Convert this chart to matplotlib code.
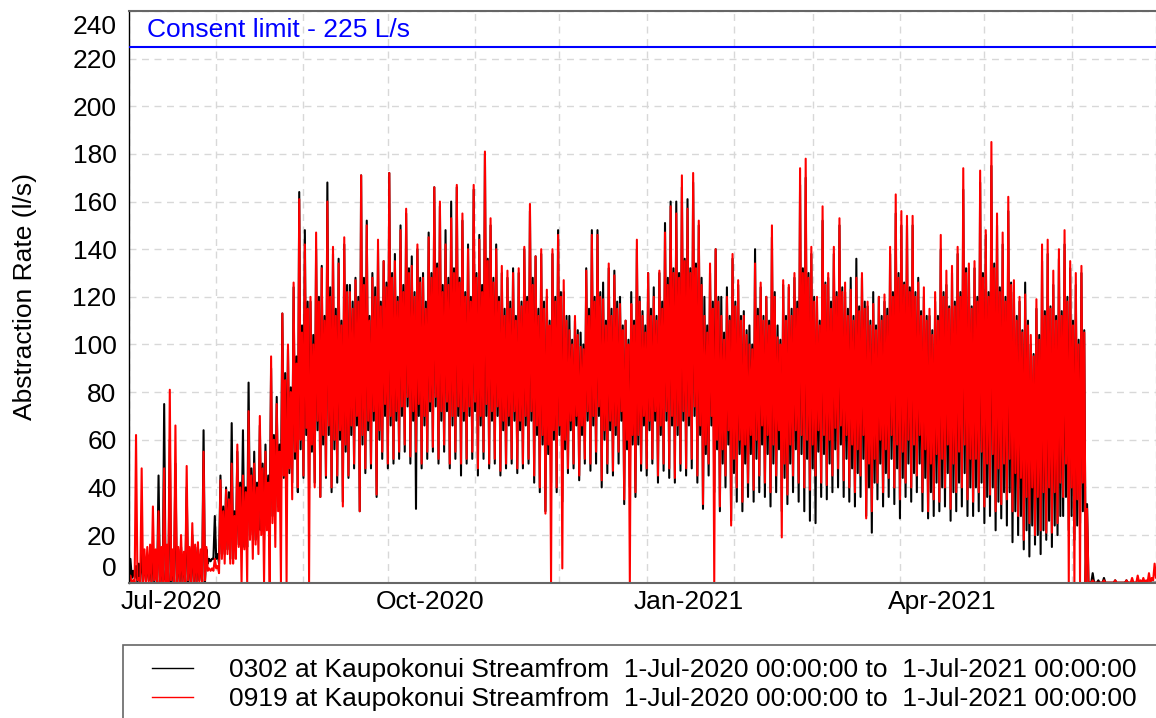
import numpy as np
import matplotlib
matplotlib.use("Agg")
import matplotlib.pyplot as plt
import matplotlib.dates as mdates
import matplotlib.transforms as mtransforms
from matplotlib.patches import Rectangle

plt.rcParams["font.family"] = ["Liberation Sans", "DejaVu Sans"]

# ── Données : par période de 2 jours, creux/pic extrêmes (lo, hi)
#    puis creux/pic courants (lo2, hi2) ──
start = np.datetime64("2020-07-01")
end = np.datetime64("2021-07-01")

red_hi = [
    3, 62, 48, 15, 32, 30, 48, 81, 66, 20,
    49, 25, 17, 55, 6, 10, 43, 39, 50, 58,
    45, 72, 50, 70, 55, 95, 75, 113, 100, 126,
    161, 142, 120, 147, 132, 160, 141, 134, 145, 122,
    127, 171, 150, 128, 144, 135, 172, 135, 148, 157,
    133, 142, 128, 145, 166, 160, 142, 153, 167, 155,
    140, 167, 144, 181, 153, 140, 133, 131, 130, 132,
    141, 159, 137, 140, 123, 140, 146, 127, 106, 112,
    99, 131, 146, 146, 119, 134, 129, 117, 110, 117,
    144, 112, 130, 120, 131, 147, 158, 155, 171, 157,
    172, 152, 112, 134, 140, 112, 120, 138, 127, 112,
    100, 134, 126, 120, 150, 103, 127, 125, 130, 174,
    178, 141, 120, 158, 130, 141, 153, 126, 123, 128,
    130, 118, 117, 120, 121, 141, 163, 156, 154, 154,
    126, 124, 115, 122, 146, 131, 133, 141, 174, 134,
    135, 173, 148, 185, 155, 147, 162, 127, 120, 121,
    104, 119, 142, 144, 131, 140, 148, 135, 130, 133,
    31, 1, 0, 1, 0, 1, 0, 1, 2, 3,
    2, 4, 8,
]
red_lo = [
    0, 0, 0, 0, 0, 0, 0, 0, 0, 0,
    0, 0, 0, 0, 5, 5, 4, 8, 8, 10,
    0, 0, 10, 12, 0, 0, 15, 0, 0, 35,
    40, 45, 0, 40, 36, 45, 40, 45, 32, 45,
    50, 30, 48, 50, 37, 55, 50, 52, 55, 58,
    53, 55, 50, 55, 57, 52, 58, 50, 55, 50,
    52, 55, 48, 55, 50, 52, 47, 50, 52, 48,
    50, 52, 45, 40, 29, 0, 40, 6, 48, 50,
    45, 52, 50, 55, 43, 50, 47, 55, 35, 0,
    38, 50, 48, 52, 45, 50, 48, 44, 50, 48,
    52, 45, 33, 50, 0, 32, 45, 24, 40, 34,
    42, 39, 45, 42, 38, 45, 19, 37, 45, 42,
    40, 39, 45, 42, 41, 45, 48, 43, 40, 38,
    45, 27, 30, 42, 38, 44, 40, 35, 42, 40,
    45, 38, 30, 35, 34, 40, 31, 38, 40, 35,
    34, 38, 32, 37, 30, 33, 35, 30, 28, 18,
    25, 20, 22, 21, 21, 25, 36, 0, 0, 0,
    0, 0, 0, 0, 0, 0, 0, 0, 0, 0,
    0, 0, 1,
]
red_hi2 = [
    1, 2, 14, 16, 14, 15, 16, 14, 15, 13,
    15, 16, 14, 15, 6, 7, 30, 35, 28, 40,
    38, 45, 40, 48, 42, 60, 55, 85, 80, 92,
    105, 115, 100, 118, 110, 120, 112, 108, 122, 115,
    118, 125, 110, 120, 116, 124, 128, 118, 122, 130,
    120, 126, 115, 128, 132, 122, 125, 130, 126, 120,
    118, 128, 122, 135, 126, 118, 112, 115, 110, 116,
    118, 125, 112, 115, 108, 118, 120, 110, 100, 104,
    98, 112, 118, 120, 108, 112, 115, 106, 100, 108,
    118, 105, 112, 110, 115, 125, 130, 128, 135, 130,
    132, 125, 105, 115, 118, 102, 110, 116, 110, 104,
    98, 112, 110, 108, 120, 100, 110, 112, 115, 130,
    128, 118, 108, 125, 115, 120, 122, 112, 110, 114,
    115, 108, 106, 110, 112, 120, 128, 125, 122, 120,
    112, 110, 104, 110, 120, 115, 116, 120, 130, 115,
    118, 128, 120, 132, 122, 118, 125, 110, 105, 108,
    95, 102, 112, 115, 110, 112, 118, 108, 100, 105,
    0, 0, 0, 0, 0, 0, 0, 0, 0, 1,
    1, 2, 5,
]
red_lo2 = [
    0, 1, 0, 0, 1, 0, 0, 1, 0, 0,
    1, 0, 0, 1, 5, 6, 10, 12, 8, 15,
    14, 18, 16, 20, 22, 25, 30, 45, 48, 55,
    60, 65, 58, 68, 62, 66, 60, 64, 58, 66,
    70, 62, 68, 72, 64, 75, 70, 72, 74, 78,
    72, 75, 70, 76, 78, 72, 76, 70, 74, 72,
    74, 76, 70, 75, 72, 74, 68, 70, 72, 68,
    70, 72, 66, 62, 58, 64, 66, 60, 68, 70,
    66, 72, 70, 74, 64, 68, 66, 72, 60, 62,
    62, 70, 68, 72, 66, 72, 70, 66, 72, 70,
    74, 66, 58, 70, 60, 56, 64, 52, 60, 58,
    62, 60, 66, 62, 58, 64, 50, 58, 64, 62,
    60, 58, 64, 62, 60, 65, 66, 62, 58, 56,
    62, 50, 52, 60, 56, 62, 58, 55, 60, 58,
    62, 56, 50, 54, 52, 58, 50, 55, 58, 52,
    52, 55, 50, 54, 48, 50, 52, 46, 44, 36,
    40, 36, 38, 40, 38, 42, 50, 40, 35, 42,
    0, 0, 0, 0, 0, 0, 0, 0, 0, 0,
    0, 0, 2,
]

black_hi = [
    10, 7, 12, 10, 15, 45, 75, 60, 50, 15,
    40, 20, 15, 64, 10, 28, 45, 40, 67, 55,
    64, 84, 55, 66, 58, 90, 78, 113, 98, 124,
    164, 148, 118, 140, 133, 168, 138, 136, 142, 125,
    128, 171, 152, 130, 140, 135, 172, 138, 150, 155,
    137, 140, 130, 147, 166, 158, 148, 160, 166, 152,
    142, 165, 146, 180, 150, 142, 130, 128, 132, 130,
    140, 156, 137, 138, 120, 138, 148, 122, 112, 110,
    105, 132, 148, 148, 126, 132, 131, 120, 110, 122,
    140, 114, 130, 124, 130, 151, 160, 160, 166, 161,
    168, 150, 120, 130, 140, 120, 124, 136, 125, 114,
    108, 140, 124, 120, 145, 108, 125, 124, 128, 167,
    170, 138, 118, 152, 128, 138, 150, 122, 128, 136,
    128, 116, 122, 120, 118, 138, 155, 150, 150, 150,
    128, 120, 112, 118, 140, 125, 130, 138, 165, 132,
    132, 168, 146, 175, 150, 142, 156, 122, 118, 126,
    100, 115, 135, 138, 125, 136, 142, 132, 125, 130,
    33, 4, 1, 2, 0, 1, 0, 1, 0, 0,
    0, 0, 0,
]
black_lo = [
    0, 2, 0, 1, 0, 0, 0, 0, 0, 0,
    0, 0, 0, 0, 8, 10, 8, 12, 10, 14,
    18, 15, 20, 22, 18, 25, 30, 38, 40, 42,
    38, 44, 40, 42, 36, 44, 38, 42, 34, 44,
    48, 30, 46, 48, 36, 52, 48, 50, 52, 55,
    50, 31, 48, 52, 55, 50, 55, 48, 52, 45,
    50, 52, 45, 52, 48, 50, 45, 48, 50, 46,
    48, 50, 42, 38, 30, 42, 38, 34, 46, 48,
    43, 50, 47, 50, 40, 46, 45, 50, 33, 40,
    36, 47, 45, 50, 42, 47, 44, 42, 47, 45,
    48, 42, 31, 45, 38, 30, 40, 26, 34, 30,
    36, 34, 38, 36, 32, 38, 30, 33, 38, 34,
    30, 26, 25, 36, 35, 38, 40, 36, 34, 32,
    36, 28, 21, 35, 32, 36, 33, 27, 36, 34,
    38, 30, 27, 28, 30, 32, 26, 30, 32, 28,
    28, 30, 25, 28, 22, 27, 24, 17, 20, 14,
    11, 16, 12, 18, 15, 20, 28, 22, 18, 25,
    0, 0, 0, 0, 0, 0, 0, 0, 0, 0,
    0, 0, 0,
]
black_hi2 = [
    5, 8, 6, 10, 12, 14, 15, 12, 14, 12,
    14, 15, 12, 14, 10, 12, 32, 38, 30, 42,
    40, 48, 42, 50, 45, 62, 58, 88, 82, 95,
    108, 118, 104, 120, 112, 124, 115, 110, 125, 118,
    120, 128, 112, 124, 118, 126, 130, 120, 125, 132,
    122, 128, 118, 130, 134, 125, 128, 132, 128, 122,
    120, 130, 125, 136, 128, 120, 115, 118, 112, 118,
    120, 128, 115, 118, 110, 120, 122, 112, 102, 106,
    100, 115, 120, 122, 110, 115, 118, 108, 102, 110,
    120, 108, 115, 112, 118, 128, 132, 130, 136, 132,
    134, 128, 108, 118, 120, 105, 112, 118, 112, 106,
    100, 115, 112, 110, 122, 102, 112, 115, 118, 132,
    130, 120, 110, 126, 118, 122, 124, 115, 112, 116,
    118, 110, 108, 112, 115, 122, 130, 126, 124, 122,
    114, 112, 106, 112, 122, 116, 118, 122, 132, 116,
    120, 130, 122, 134, 124, 120, 126, 112, 106, 110,
    96, 104, 114, 116, 112, 114, 120, 110, 102, 106,
    0, 0, 0, 0, 0, 0, 0, 0, 0, 0,
    0, 0, 0,
]
black_lo2 = [
    2, 0, 3, 1, 0, 0, 1, 0, 0, 0,
    0, 0, 1, 0, 9, 10, 12, 14, 10, 16,
    15, 20, 18, 22, 24, 28, 32, 44, 46, 52,
    56, 62, 55, 64, 58, 62, 56, 60, 55, 62,
    66, 58, 64, 68, 60, 70, 66, 68, 70, 74,
    68, 70, 66, 72, 74, 68, 72, 66, 70, 68,
    70, 72, 66, 70, 68, 70, 64, 66, 68, 64,
    66, 68, 62, 58, 54, 60, 62, 56, 64, 66,
    62, 68, 66, 70, 60, 64, 62, 68, 56, 58,
    58, 66, 64, 68, 62, 68, 66, 62, 68, 66,
    70, 62, 54, 66, 56, 50, 58, 46, 54, 50,
    54, 52, 58, 54, 50, 56, 44, 50, 56, 54,
    52, 48, 55, 54, 50, 56, 58, 52, 48, 46,
    52, 40, 42, 50, 46, 52, 48, 44, 50, 46,
    50, 44, 38, 42, 40, 46, 38, 42, 46, 40,
    40, 42, 36, 40, 34, 38, 38, 30, 28, 22,
    24, 20, 22, 26, 24, 28, 36, 28, 24, 30,
    0, 0, 0, 0, 0, 0, 0, 0, 0, 0,
    0, 0, 0,
]

series_labels = [
    "0302 at Kaupokonui Streamfrom  1-Jul-2020 00:00:00 to  1-Jul-2021 00:00:00",
    "0919 at Kaupokonui Streamfrom  1-Jul-2020 00:00:00 to  1-Jul-2021 00:00:00",
]
consent_limit = 225
consent_label = "Consent limit - 225 L/s"
x_label_dates = ["2020-07-16", "2020-10-16", "2021-01-16", "2021-04-16"]
y_ticks = list(range(0, 241, 20))


def serie(lo, hi, lo2, hi2):
    # une valeur toutes les 12 h : creux, pic, creux, pic
    return np.column_stack([lo, hi, lo2, hi2]).ravel().astype(float)


red = serie(red_lo, red_hi, red_lo2, red_hi2)
black = serie(black_lo, black_hi, black_lo2, black_hi2)
times = (start.astype("datetime64[h]")
         + 12 * np.arange(len(red)).astype("timedelta64[h]")).astype("datetime64[s]").astype(object)

# ── Figure ──
FS = 19
fig = plt.figure(figsize=(11.56, 7.18), dpi=100)
ax = fig.add_axes([129 / 1156, (718 - 582.7) / 718, 1027 / 1156, (582.7 - 11) / 718])

l_black, = ax.plot(times, black, color="black", linewidth=1.5)
l_red, = ax.plot(times, red, color="#ff0000", linewidth=1.5)

# Limite de consentement
ax.axhline(consent_limit, color="#0000ff", linewidth=1.5, zorder=4)
trans = mtransforms.blended_transform_factory(ax.transAxes, ax.transData)
ax.text(0.0175, consent_limit + 7.2, consent_label, transform=trans,
        color="#0000ff", fontsize=FS, va="center", ha="left")

# Axes
ax.set_xlim(start.astype(object), end.astype(object))
ax.set_ylim(0, 240)
ax.set_yticks(y_ticks)
ax.set_yticklabels([str(v) for v in y_ticks])
ax.xaxis.set_major_locator(mdates.MonthLocator())
ax.xaxis.set_major_formatter(plt.NullFormatter())
ax.set_xticks([np.datetime64(d).astype(object) for d in x_label_dates], minor=True)
ax.xaxis.set_minor_formatter(mdates.DateFormatter("%b-%Y"))
ax.tick_params(axis="both", which="both", length=0, labelsize=FS)
ax.tick_params(axis="y", pad=9)
ax.tick_params(axis="x", which="minor", pad=5)

ax.grid(True, axis="x", which="major", color="#d8d8d8", linestyle=(0, (5, 4)), linewidth=1)
ax.grid(True, axis="y", which="major", color="#d8d8d8", linestyle=(0, (5, 4)), linewidth=1)
ax.set_axisbelow(True)

ax.spines["left"].set_color("black")
ax.spines["left"].set_linewidth(1.0)
for side in ["bottom", "top"]:
    ax.spines[side].set_color("#666666")
    ax.spines[side].set_linewidth(1.5)
ax.spines["right"].set_visible(False)

# Décalage des étiquettes 0 et 240 (vers l'intérieur)
labels = ax.get_yticklabels()
labels[0].set_transform(labels[0].get_transform()
                        + mtransforms.ScaledTranslation(0, 16 / 100, fig.dpi_scale_trans))
labels[-1].set_transform(labels[-1].get_transform()
                         + mtransforms.ScaledTranslation(0, -13 / 100, fig.dpi_scale_trans))

ax.set_ylabel("Abstraction Rate (l/s)", fontsize=FS)
ax.yaxis.set_label_coords(-0.09, 0.5)

# Légende
fig.add_artist(Rectangle((123 / 1156, -0.05), 1.0, (718 - 645) / 718 + 0.05,
                         transform=fig.transFigure, fill=False,
                         edgecolor="#666666", linewidth=1.2))
leg = fig.legend([l_black, l_red], series_labels, loc="upper left",
                 bbox_to_anchor=(152 / 1156, 1 - 658 / 718), frameon=False,
                 borderpad=0, borderaxespad=0, handlelength=41 / 26.5,
                 handletextpad=36 / 26.5, labelspacing=0.2, fontsize=FS)
for h in leg.legend_handles:
    h.set_linewidth(1.0)

fig.savefig("out.png", dpi=100)
